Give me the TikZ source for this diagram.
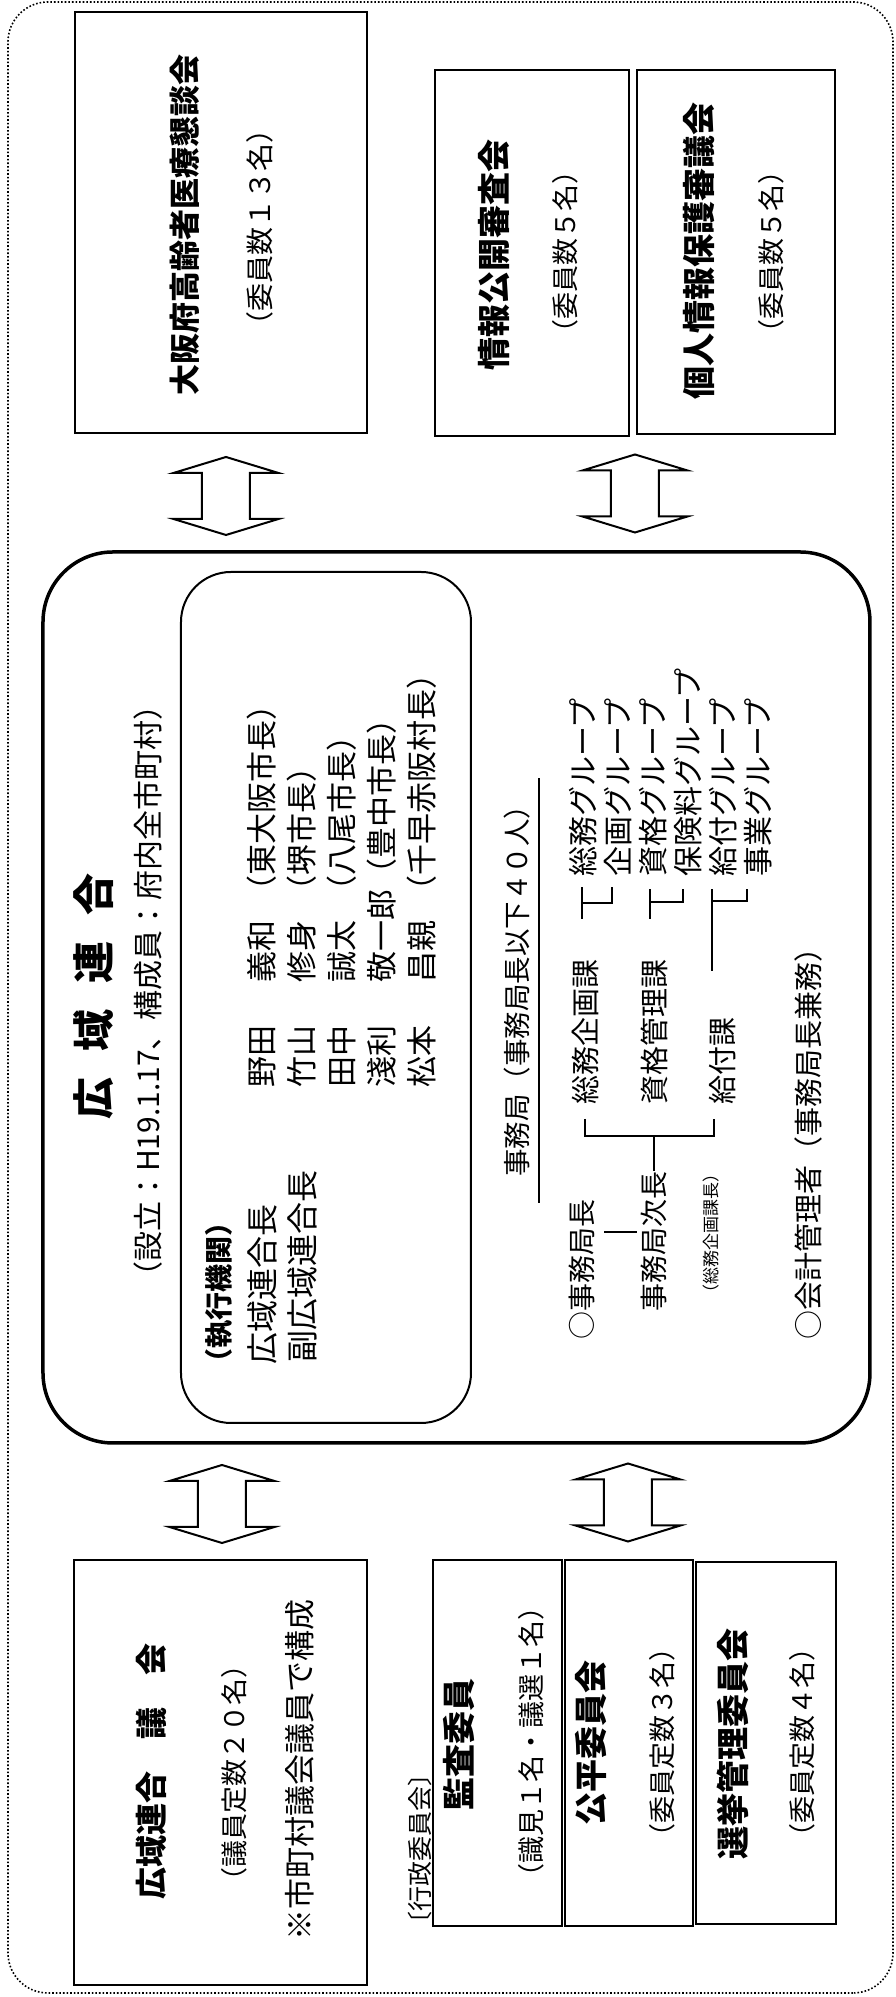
\documentclass[tikz,border=0pt]{standalone}
\usepackage{fontspec}
\setmainfont{Noto Sans CJK JP}
\usetikzlibrary{positioning,calc}

% font sizes (one pixel of the chart = 0.5pt)
\newcommand\fsTitle{\fontsize{21pt}{25pt}\selectfont\bfseries}
\newcommand\fsHead{\fontsize{16.5pt}{20pt}\selectfont\bfseries}
\newcommand\fsText{\fontsize{13.5pt}{16pt}\selectfont}
\newcommand\fsName{\fontsize{15.5pt}{18pt}\selectfont}
\newcommand\fsOffice{\fontsize{14.5pt}{17pt}\selectfont}
\newcommand\fsNote{\fontsize{8.5pt}{10pt}\selectfont}

\tikzset{
  org box/.style={
    draw,
    line width=1.25pt,
    inner sep=0pt,
  },
  org round box/.style={
    org box,
    rounded corners=35pt,
    line width=1.75pt,
  },
  org label/.style={
    inner sep=0pt,
    font=\fsText,
  },
  org head/.style={
    org label,
    font=\fsHead,
  },
  org name/.style={
    org label,
    anchor=west,
    font=\fsName,
  },
  org office/.style={
    org label,
    anchor=west,
    font=\fsOffice,
  },
  org line/.style={
    line width=1pt,
  },
  org arrow/.pic={
    \draw[line width=1pt, line join=miter]
      (-39,0) -- (-23,52.5) -- (-23,24) -- (23,24) -- (23,52.5) -- (39,0)
      -- (23,-52.5) -- (23,-24) -- (-23,-24) -- (-23,-52.5) -- cycle;
  },
}

\begin{document}
\begin{tikzpicture}[
    x=0.5pt, y=0.5pt % one unit is one pixel of the chart
  ]
  \begin{scope}[rotate=90, transform shape] % the chart is laid out landscape

    \useasboundingbox (0,0) rectangle (1997,895);
    \draw[densely dotted, line width=0.8pt, rounded corners=20pt] (4,2) rectangle (1995,887);

    % councils on the right
    \node[org box, minimum width=210.5pt, minimum height=146pt] (kondankai) at (1774.5,674) {};
    \node[org head, font=\fontsize{15.5pt}{18pt}\selectfont\bfseries] (kondankai-t) at (1772,710) {大阪府高齢者医療懇談会};
    \node[org label, font=\fontsize{14pt}{17pt}\selectfont] (kondankai-s) at (1769,635) {（委員数１３名）};

    \node[org box, minimum width=183pt, minimum height=97pt] (johokokai) at (1744,363) {};
    \node[org head] (johokokai-t) at (1742,401) {情報公開審査会};
    \node[org label] (johokokai-s) at (1745,330) {（委員数５名）};

    \node[org box, minimum width=182pt, minimum height=99pt] (kojinjoho) at (1745,159) {};
    \node[org head] (kojinjoho-t) at (1746,196) {個人情報保護審議会};
    \node[org label] (kojinjoho-s) at (1745,124) {（委員数５名）};

    \pic (arrow-kondankai) at (1501,669) {org arrow};
    \pic (arrow-joho) at (1503.5,260) {org arrow};

    % the union
    \node[org round box, minimum width=445.5pt, minimum height=413.5pt] (rengo) at (999.5,438.5) {};
    \node[org label, font=\fsTitle] (rengo-t) at (1000,801) {広\hspace{13pt}域\hspace{13pt}連\hspace{13pt}合};
    \node[org label, font=\fontsize{15pt}{18pt}\selectfont] (rengo-s) at (1006,747) {（設立：H19.1.17、構成員：府内全市町村）};

    \node[org box, rounded corners=25pt, line width=1pt, minimum width=425.5pt, minimum height=145pt] (shikko) at (999.5,569) {};
    \node[org label, anchor=west, font=\fontsize{14pt}{17pt}\selectfont\bfseries] (shikko-t) at (620,676) {（執行機関）};
    \node[org name, font=\fontsize{16pt}{19pt}\selectfont] (chief) at (632,633) {広域連合長};
    \node[org name, font=\fontsize{16pt}{19pt}\selectfont] (vice) at (634,593) {副広域連合長};

    \node[org name] (sei-1) at (909,633) {野田};
    \node[org name] (sei-2) at (909,593) {竹山};
    \node[org name] (sei-3) at (909,553) {田中};
    \node[org name] (sei-4) at (909,513) {淺利};
    \node[org name] (sei-5) at (909,473) {松本};
    \node[org name] (mei-1) at (1014,633) {義和};
    \node[org name] (mei-2) at (1014,593) {修身};
    \node[org name] (mei-3) at (1014,553) {誠太};
    \node[org name] (mei-4) at (1014,513) {敬一郎（豊中市長）};
    \node[org name] (mei-5) at (1014,473) {昌親};
    \node[org name] (post-1) at (1090,633) {（東大阪市長）};
    \node[org name] (post-2) at (1090,593) {（堺市長）};
    \node[org name] (post-3) at (1090,553) {（八尾市長）};
    \node[org name] (post-5) at (1090,473) {（千早赤阪村長）};

    % secretariat
    \node[org label, anchor=west, font=\fontsize{13.75pt}{16pt}\selectfont] (jimu) at (820,378) {事務局（事務局長以下４０人）};
    \draw[org line] (794,356) -- (1219,356);

    \node[org office, font=\fontsize{14pt}{17pt}\selectfont] (kyokucho) at (657,313) {○事務局長};
    \node[org office, font=\fontsize{14pt}{17pt}\selectfont] (jicho) at (685,241) {事務局次長};
    \node[org label, anchor=west, font=\fsNote] (jicho-s) at (695,184) {（総務企画課長）};
    \coordinate (kyoku) at (765,0);
    \draw[org line, shorten <=4.5pt, shorten >=2pt] (kyokucho.south -| kyoku) -- (jicho.north -| kyoku);

    \node[org office] (ka-somu) at (892,310) {総務企画課};
    \node[org office] (ka-shikaku) at (892,241) {資格管理課};
    \node[org office] (ka-kyufu) at (892,172) {給付課};

    \coordinate (bar-top) at (861,310);
    \coordinate (bar-bot) at (861,181);
    \draw[org line] (878,310) -- (bar-top) -- (bar-bot) -- (878,181);
    \draw[org line] (jicho.east) -- (jicho.east -| bar-top);

    \draw[org line] (1078,313) -- (1110,313) (1094,313) |- (1110,283);
    \draw[org line] (1078,245) -- (1108,245) (1095,245) |- (1108,212);
    \draw[org line] (1026,183) -- (1108,183) (1096,183) |- (1108,148);

    \node[org office, font=\fontsize{15pt}{18pt}\selectfont] (g-somu) at (1120,312) {総務グループ};
    \node[org office, font=\fontsize{15pt}{18pt}\selectfont] (g-kikaku) at (1120,277) {企画グループ};
    \node[org office, font=\fontsize{15pt}{18pt}\selectfont] (g-shikaku) at (1120,242) {資格グループ};
    \node[org office, font=\fontsize{15pt}{18pt}\selectfont] (g-hoken) at (1120,207) {保険料グループ};
    \node[org office, font=\fontsize{15pt}{18pt}\selectfont] (g-kyufu) at (1120,172) {給付グループ};
    \node[org office, font=\fontsize{15pt}{18pt}\selectfont] (g-jigyo) at (1120,137) {事業グループ};

    \node[org office] (kaikei) at (657,87) {○会計管理者（事務局長兼務）};

    % assembly and commissions on the left
    \pic (arrow-gikai) at (493,673) {org arrow};
    \pic (arrow-iinkai) at (494.5,267) {org arrow};

    \node[org box, minimum width=212.5pt, minimum height=146.5pt] (gikai) at (224.5,674.5) {};
    \node[org head, font=\fontsize{16pt}{19pt}\selectfont\bfseries] (gikai-t) at (225,744) {広域連合　議　会};
    \node[org label] (gikai-s) at (224,661) {（議員定数２０名）};
    \node[org label, font=\fontsize{15.5pt}{18pt}\selectfont] (gikai-n) at (227,595) {※市町村議会議員で構成};

    \node[org label, anchor=west, font=\fontsize{12.5pt}{15pt}\selectfont] (gyosei) at (60,475) {〔行政委員会〕};

    \node[org box, minimum width=183pt, minimum height=64.5pt] (kansa) at (254,397.5) {};
    \node[org head] (kansa-t) at (252.5,436) {監査委員};
    \node[org label] (kansa-s) at (254.5,364) {（識見１名・議選１名）};

    \node[org box, minimum width=183pt, minimum height=64pt] (kohei) at (254,266) {};
    \node[org head] (kohei-t) at (253.5,304) {公平委員会};
    \node[org label] (kohei-s) at (254,233) {（委員定数３名）};

    \node[org box, minimum width=181pt, minimum height=70pt] (senkyo) at (254,129) {};
    \node[org head] (senkyo-t) at (252.5,162) {選挙管理委員会};
    \node[org label] (senkyo-s) at (254,93) {（委員定数４名）};

  \end{scope}
\end{tikzpicture}
\end{document}
